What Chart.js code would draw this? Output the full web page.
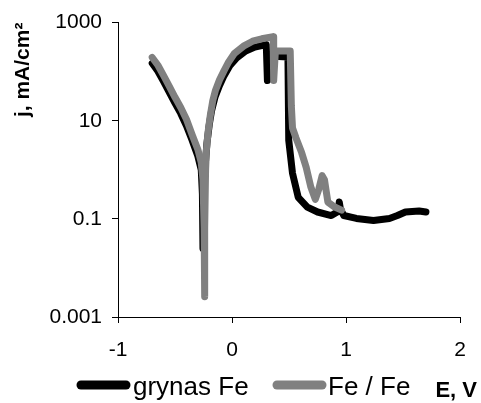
<!DOCTYPE html>
<html><head><meta charset="utf-8">
<script src="https://cdn.jsdelivr.net/npm/chart.js@4"></script>
<style>html,body{margin:0;padding:0;background:#fff}canvas{display:block}</style>
</head><body>
<canvas id="c" width="481" height="403"></canvas>
<script>
// ---- data ----
const seriesNames = ['grynas Fe', 'Fe / Fe'];
const xTickValues = [-1, 0, 1, 2];
const yTickValues = [0.001, 0.1, 10, 1000];
const yTickLabels = ['0.001', '0.1', '10', '1000'];
const xAxisLabel = 'E, V';
const yAxisLabel = 'j, mA/cm\u00B2';

// black series: grynas Fe
const grynasE = [-0.70,-0.65,-0.60,-0.55,-0.50,-0.45,-0.40,-0.35,-0.30,-0.27,-0.26,-0.255,-0.248,-0.235,-0.22,-0.20,-0.18,-0.15,-0.11,-0.07,-0.02,0.04,0.12,0.20,0.30,0.31,0.325,0.49,0.497,0.53,0.58,0.66,0.75,0.87,0.93,0.94,0.95,0.98,1.09,1.24,1.38,1.45,1.52,1.64,1.70];
const grynasJ = [148,102,63,38,22.9,14.1,7.9,4.0,1.9,1.0,0.32,0.025,0.32,1.26,3.5,8.3,15.8,30,52,83,132,191,263,316,355,66,209,200,4.0,0.85,0.275,0.174,0.138,0.117,0.141,0.22,0.158,0.117,0.102,0.093,0.102,0.117,0.138,0.145,0.138];

// gray series: Fe / Fe
const feFeE = [-0.70,-0.65,-0.60,-0.55,-0.50,-0.45,-0.40,-0.35,-0.30,-0.27,-0.255,-0.245,-0.242,-0.238,-0.232,-0.225,-0.21,-0.19,-0.17,-0.145,-0.11,-0.07,-0.03,0.02,0.10,0.18,0.26,0.36,0.365,0.38,0.51,0.52,0.53,0.56,0.61,0.65,0.69,0.73,0.76,0.79,0.81,0.84,0.90,0.96];
const feFeJ = [195,135,83,50,30,18.6,10.7,5.2,2.6,1.4,0.63,0.063,0.0026,0.063,1.0,2.5,6.0,13.2,25,42,68,105,158,234,331,417,468,513,66,263,263,20,7.1,4.5,2.24,1.12,0.45,0.25,0.40,0.76,0.63,0.22,0.174,0.151];

const colors = ['#000000', '#808080'];

function toPoints(xs, ys) { return xs.map((x, i) => ({x: x, y: ys[i]})); }

const legendAndLabel = {
  id: 'legendAndLabel',
  afterDraw(chart) {
    const ctx = chart.ctx;
    ctx.save();
    const items = [
      {x1: 81, x2: 126, tx: 133},
      {x1: 277, x2: 322, tx: 328}
    ];
    chart.data.datasets.forEach((ds, i) => {
      const it = items[i];
      ctx.beginPath();
      ctx.lineWidth = 9;
      ctx.lineCap = 'round';
      ctx.strokeStyle = ds.borderColor;
      ctx.moveTo(it.x1, 385);
      ctx.lineTo(it.x2, 385);
      ctx.stroke();
      ctx.fillStyle = '#000';
      ctx.font = '26px "Liberation Sans", Arial, sans-serif';
      ctx.textBaseline = 'middle';
      ctx.textAlign = 'left';
      ctx.fillText(ds.label, it.tx, 388);
    });
    ctx.font = 'bold 22px "Liberation Sans", Arial, sans-serif';
    ctx.textAlign = 'right';
    ctx.textBaseline = 'middle';
    ctx.fillStyle = '#000';
    ctx.fillText(xAxisLabel, 477, 391);
    ctx.restore();
  }
};

new Chart(document.getElementById('c'), {
  type: 'scatter',
  data: {
    datasets: [
      {label: seriesNames[0], data: toPoints(grynasE, grynasJ), borderColor: colors[0], backgroundColor: colors[0], order: 1},
      {label: seriesNames[1], data: toPoints(feFeE, feFeJ), borderColor: colors[1], backgroundColor: colors[1], order: 0}
    ]
  },
  options: {
    responsive: false,
    devicePixelRatio: 1,
    animation: false,
    showLine: true,
    layout: {padding: {left: 0, right: 12, top: 22, bottom: 42}},
    elements: {
      point: {radius: 0, hoverRadius: 0},
      line: {borderWidth: 7, borderCapStyle: 'round', borderJoinStyle: 'round', tension: 0, fill: false}
    },
    plugins: {legend: {display: false}, tooltip: {enabled: false}},
    scales: {
      x: {
        type: 'linear', min: -1, max: 2,
        afterBuildTicks: s => { s.ticks = xTickValues.map(v => ({value: v})); },
        afterFit: s => { s.height = 44; },
        ticks: {color: '#000', font: {family: '"Liberation Sans", Arial, sans-serif', size: 21}, padding: 15, maxRotation: 0},
        grid: {drawOnChartArea: false, drawTicks: true, tickLength: 6, color: '#000'},
        border: {display: true, color: '#000', width: 1}
      },
      y: {
        type: 'logarithmic', min: 0.001, max: 1000,
        afterBuildTicks: s => { s.ticks = yTickValues.map(v => ({value: v})); },
        afterFit: s => { s.width = 118; },
        ticks: {color: '#000', font: {family: '"Liberation Sans", Arial, sans-serif', size: 21}, padding: 10,
                callback: (v, i) => yTickLabels[i]},
        grid: {drawOnChartArea: false, drawTicks: true, tickLength: 6, color: '#000'},
        border: {display: true, color: '#000', width: 1},
        title: {display: true, text: yAxisLabel, align: 'end', color: '#000',
                font: {family: '"Liberation Sans", Arial, sans-serif', size: 21, weight: 'bold'},
                padding: {top: 11, bottom: 0}}
      }
    }
  },
  plugins: [legendAndLabel]
});
</script>
</body></html>
